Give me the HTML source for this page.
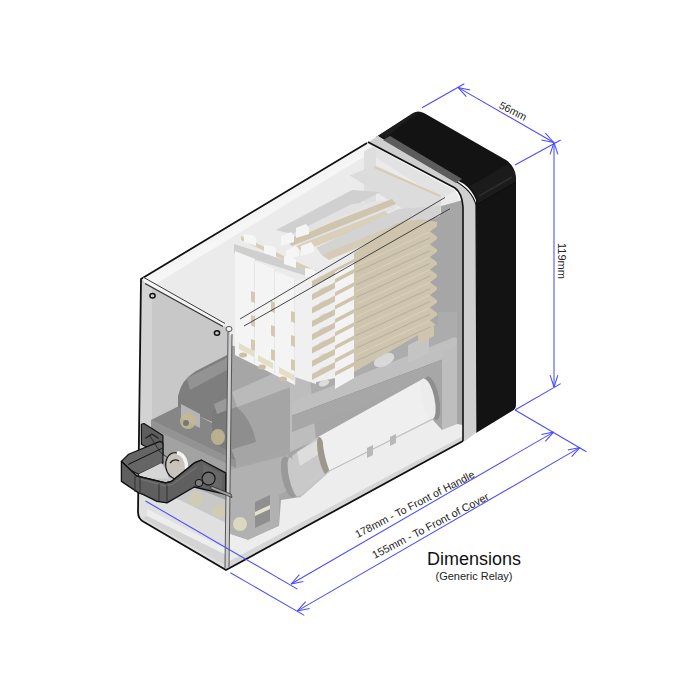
<!DOCTYPE html><html><head><meta charset="utf-8"><style>
html,body{margin:0;padding:0;background:#fff;}
svg{display:block;font-family:"Liberation Sans",sans-serif;}
</style></head><body>
<svg width="700" height="700" viewBox="0 0 700 700">
<rect width="700" height="700" fill="#fff"/>
<path d="M376,137 L413,113 Q418,110 424,113 L506,160 Q515,166 516,178 L516,405 Q516,409 512,411 L476,433 L476,200 Q472,190 464,184 Z" fill="#131313"/>
<polygon points="470,186 508,164 515,172 516,182 478,205 476,196" fill="#1b1b1b" />
<line x1="479" y1="196" x2="512" y2="177" stroke="#2c2c2c" stroke-width="2" />
<line x1="478" y1="204" x2="516" y2="182" stroke="#0c0c0c" stroke-width="1" />
<polygon points="378,136 414,113 420,112 400,126 386,138" fill="#1c1c1c" />
<polygon points="141,279 367,143 455,190 463,205 463,441 226,570 230,329" fill="#ebebeb" />
<polygon points="142,280 367,143 375,150 149,288" fill="#f6f6f6" />
<polygon points="420,212 463,200 463,441 437,441 437,340 420,345" fill="#a6a6a6" />
<polygon points="364,150 372,146 455,191 441,199" fill="#e2e2e2" />
<polygon points="230,345 316,368 354,376 438,336 457,337 457,424 442,432 431,438 330,490 279,526 248,540 230,534" fill="#a6a6a6" />
<polygon points="300,380 354,352 438,312 457,312 457,337 300,405" fill="#acacac" />
<ellipse cx="385" cy="348" rx="8" ry="5" transform="rotate(-25 385 348)" fill="#dedede" />
<path d="M230,404 Q236,390 250,386 L290,368 L296,378 L296,445 L250,462 L230,468 Z" fill="#a5a5a5"/>
<polygon points="232,392 290,366 296,385 237,407" fill="#bababa" />
<path d="M230,409 L237,407 Q252,420 256,442 L230,450 Z" fill="#8e8e8e"/>
<path d="M290,377 Q300,370 310,378 L316,440 L290,452 Z" fill="#bdbdbd"/>
<polygon points="292,402 455,337 457,338 457,350 442,360 292,416" fill="#c0c0c0" />
<line x1="292" y1="416" x2="442" y2="360" stroke="#999" stroke-width="1" />
<polygon points="292,416 442,360 442,374 292,432" fill="#a7a7a7" />
<polygon points="442,352 457,345 457,424 442,432" fill="#bebebe" />
<polygon points="230,470 288,455 288,490 279,495 279,526 248,540 230,534" fill="#b1b1b1" />
<polygon points="255,502 270,495 270,521 255,528" fill="#8f8f8f" />
<polygon points="255,512 270,505 270,509 255,516" fill="#e6e1cf" />
<ellipse cx="240" cy="524" rx="7" ry="7" transform="rotate(0 240 524)" fill="#dcd7c0" />
<ellipse cx="432" cy="398" rx="7" ry="22" transform="rotate(-12 432 398)" fill="#8e8e8e" />
<polygon points="318,437 424,378.3 432,419.4 329.4,470.8" fill="#efefef" />
<ellipse cx="428" cy="399" rx="6.5" ry="20.5" transform="rotate(-12 428 399)" fill="#ececec" />
<ellipse cx="289" cy="477" rx="7" ry="21" transform="rotate(-12 289 477)" fill="#999999" />
<polygon points="292,456 318,437 329,471 300,497" fill="#c9c9c9" />
<ellipse cx="294" cy="477" rx="5" ry="20" transform="rotate(-12 294 477)" fill="#c9c9c9" />
<polygon points="297,452 318,440 322,452 300,466" fill="#dddddd" />
<ellipse cx="323" cy="456" rx="4.5" ry="19.5" transform="rotate(-12 323 456)" fill="#9d978c" />
<ellipse cx="327.5" cy="454" rx="3" ry="18.5" transform="rotate(-12 327.5 454)" fill="#efefef" />
<polygon points="230,534 248,540 279,526 281,500 300,497 329,471 432,419 442,430 457,424 463,425 463,441 226,570 226,540" fill="#ededed" />
<polygon points="226,570 463,441 463,436 226,563" fill="#d6d6d6" />
<polyline points="300,497 329.4,471 432,419.4" fill="none" stroke="#c2c2c2" stroke-width="1.2" stroke-linejoin="round" stroke-linecap="round" />
<polygon points="367,448 373,445 373,455 367,458" fill="#b8b8b8" />
<polygon points="390,437 396,434 396,443 390,446" fill="#b8b8b8" />
<polygon points="364,144 376,148 376,236 364,232" fill="#dedede" />
<polygon points="349.8,175.4 375,165 441,196 441,214 420,219 398,206" fill="#dcdcdc" />
<polyline points="375.5,167.7 440,196" fill="none" stroke="#d8ccb0" stroke-width="2" stroke-linejoin="round" stroke-linecap="round" />
<polygon points="276,230 352,190 380,192 300,236" fill="#d0d0d0" />
<polygon points="284,238 352,204 392,200 398,208 316,246 292,242" fill="#e2e2e2" />
<polygon points="286,240 392,199 396,204 292,246" fill="#cfc5af" />
<polygon points="296,246 385,211 390,216 302,252" fill="#d9cfba" />
<polyline points="300,236 380,200" fill="none" stroke="#ece7dc" stroke-width="1" stroke-linejoin="round" stroke-linecap="round" />
<polygon points="316.4,247.4 398.7,208.8 440,206 440,216 321.6,255" fill="#d3d3d3" />
<polygon points="321.6,255 409,219 419,221.7 329,260" fill="#d6ccb5" />
<polygon points="281,236 291,232 294,236 294,242 281,246" fill="#f5f5f5" />
<polygon points="296,228 306,224 309,228 309,234 296,238" fill="#f5f5f5" />
<polygon points="301,246 311,242 314,246 314,252 301,256" fill="#f5f5f5" />
<polygon points="286,250 296,246 299,250 299,256 286,260" fill="#f5f5f5" />
<polygon points="234,244 316,270 316,279 234,253" fill="#cfcfcf" />
<polygon points="241,236 310,268 310,272 241,240" fill="#d8ceb7" />
<polygon points="244,234 252,235 256,238 256,246 244,242" fill="#f6f6f6" />
<polygon points="264,245 272,246 276,249 276,257 264,253" fill="#f6f6f6" />
<polygon points="284,256 292,257 296,260 296,268 284,264" fill="#f6f6f6" />
<polygon points="305,268 313,269 317,272 317,280 305,276" fill="#f6f6f6" />
<polygon points="235,251 255,259 255,365 235,355" fill="#f4f4f4" />
<line x1="255" y1="260" x2="255" y2="364" stroke="#dadada" stroke-width="1" />
<polygon points="251,291 255,292.5 255,303 251,301.5" fill="#d3c9b2" />
<polygon points="251,315 255,316.5 255,327 251,325.5" fill="#d3c9b2" />
<polygon points="251,339 255,340.5 255,351 251,349.5" fill="#d3c9b2" />
<polygon points="255,261 275,269 275,375 255,365" fill="#f4f4f4" />
<line x1="275" y1="270" x2="275" y2="374" stroke="#dadada" stroke-width="1" />
<polygon points="271,301 275,302.5 275,313 271,311.5" fill="#d3c9b2" />
<polygon points="271,325 275,326.5 275,337 271,335.5" fill="#d3c9b2" />
<polygon points="271,349 275,350.5 275,361 271,359.5" fill="#d3c9b2" />
<polygon points="275,271 295,279 295,385 275,375" fill="#f4f4f4" />
<line x1="295" y1="280" x2="295" y2="384" stroke="#dadada" stroke-width="1" />
<polygon points="291,311 295,312.5 295,323 291,321.5" fill="#d3c9b2" />
<polygon points="291,335 295,336.5 295,347 291,345.5" fill="#d3c9b2" />
<polygon points="291,359 295,360.5 295,371 291,369.5" fill="#d3c9b2" />
<polygon points="295,281 316,276 316,384 295,377" fill="#f0f0f0" />
<polygon points="239,343 254,351 254,357 239,349" fill="#e4dec6" />
<ellipse cx="243" cy="355" rx="4" ry="2.5" transform="rotate(0 243 355)" fill="#cdbfa6" />
<polygon points="258,355 273,363 273,369 258,361" fill="#e4dec6" />
<ellipse cx="262" cy="367" rx="4" ry="2.5" transform="rotate(0 262 367)" fill="#cdbfa6" />
<polygon points="279,367 294,375 294,381 279,373" fill="#e4dec6" />
<ellipse cx="283" cy="379" rx="4" ry="2.5" transform="rotate(0 283 379)" fill="#cdbfa6" />
<polygon points="312,281 354,258 354,374 312,383" fill="#efefef" />
<polygon points="312,281.0 354,259.0 354,265.0 312,287.0" fill="#cfc5af" />
<ellipse cx="324" cy="290.0" rx="5.5" ry="3" transform="rotate(-20 324 290.0)" fill="#dcdcdc" />
<polygon points="312,294.3 354,272.3 354,278.3 312,300.3" fill="#cfc5af" />
<ellipse cx="324" cy="303.3" rx="5.5" ry="3" transform="rotate(-20 324 303.3)" fill="#dcdcdc" />
<polygon points="312,307.6 354,285.6 354,291.6 312,313.6" fill="#cfc5af" />
<ellipse cx="324" cy="316.6" rx="5.5" ry="3" transform="rotate(-20 324 316.6)" fill="#dcdcdc" />
<polygon points="312,320.9 354,298.9 354,304.9 312,326.9" fill="#cfc5af" />
<ellipse cx="324" cy="329.9" rx="5.5" ry="3" transform="rotate(-20 324 329.9)" fill="#dcdcdc" />
<polygon points="312,334.2 354,312.2 354,318.2 312,340.2" fill="#cfc5af" />
<ellipse cx="324" cy="343.2" rx="5.5" ry="3" transform="rotate(-20 324 343.2)" fill="#dcdcdc" />
<polygon points="312,347.5 354,325.5 354,331.5 312,353.5" fill="#cfc5af" />
<ellipse cx="324" cy="356.5" rx="5.5" ry="3" transform="rotate(-20 324 356.5)" fill="#dcdcdc" />
<polygon points="312,360.8 354,338.8 354,344.8 312,366.8" fill="#cfc5af" />
<ellipse cx="324" cy="369.8" rx="5.5" ry="3" transform="rotate(-20 324 369.8)" fill="#dcdcdc" />
<polygon points="312,374.1 354,352.1 354,358.1 312,380.1" fill="#cfc5af" />
<ellipse cx="324" cy="383.1" rx="5.5" ry="3" transform="rotate(-20 324 383.1)" fill="#dcdcdc" />
<ellipse cx="384" cy="360" rx="11" ry="6" transform="rotate(-25 384 360)" fill="#d8d8d8" />
<polygon points="408,345 429,335 429,353 408,363" fill="#c4c4c4" />
<polygon points="354,253 395,224 421,219 437,222 437,324 354,372" fill="#cfc5af" />
<polygon points="418,334 434,326 434,336 418,344" fill="#cfc5af" />
<polygon points="430,231.5 438,225.5 438,237.5" fill="#a6a6a6" />
<polygon points="430,244.2 438,238.2 438,250.2" fill="#a6a6a6" />
<polygon points="430,256.9 438,250.9 438,262.9" fill="#a6a6a6" />
<polygon points="430,269.6 438,263.6 438,275.6" fill="#a6a6a6" />
<polygon points="430,282.3 438,276.3 438,288.3" fill="#a6a6a6" />
<polygon points="430,295.0 438,289.0 438,301.0" fill="#a6a6a6" />
<polygon points="430,307.7 438,301.7 438,313.7" fill="#a6a6a6" />
<polygon points="430,320.4 438,314.4 438,326.4" fill="#a6a6a6" />
<line x1="356" y1="266.0" x2="429" y2="232.0" stroke="#dad2bf" stroke-width="0.9" />
<line x1="356" y1="272.0" x2="430" y2="238.0" stroke="#b8b1a2" stroke-width="1.1" />
<line x1="356" y1="278.7" x2="429" y2="244.7" stroke="#dad2bf" stroke-width="0.9" />
<line x1="356" y1="284.7" x2="430" y2="250.7" stroke="#b8b1a2" stroke-width="1.1" />
<line x1="356" y1="291.4" x2="429" y2="257.4" stroke="#dad2bf" stroke-width="0.9" />
<line x1="356" y1="297.4" x2="430" y2="263.4" stroke="#b8b1a2" stroke-width="1.1" />
<line x1="356" y1="304.1" x2="429" y2="270.1" stroke="#dad2bf" stroke-width="0.9" />
<line x1="356" y1="310.1" x2="430" y2="276.1" stroke="#b8b1a2" stroke-width="1.1" />
<line x1="356" y1="316.8" x2="429" y2="282.8" stroke="#dad2bf" stroke-width="0.9" />
<line x1="356" y1="322.8" x2="430" y2="288.8" stroke="#b8b1a2" stroke-width="1.1" />
<line x1="356" y1="329.5" x2="429" y2="295.5" stroke="#dad2bf" stroke-width="0.9" />
<line x1="356" y1="335.5" x2="430" y2="301.5" stroke="#b8b1a2" stroke-width="1.1" />
<line x1="356" y1="342.2" x2="429" y2="308.2" stroke="#dad2bf" stroke-width="0.9" />
<line x1="356" y1="348.2" x2="430" y2="314.2" stroke="#b8b1a2" stroke-width="1.1" />
<line x1="356" y1="354.9" x2="429" y2="320.9" stroke="#dad2bf" stroke-width="0.9" />
<line x1="356" y1="360.9" x2="430" y2="326.9" stroke="#b8b1a2" stroke-width="1.1" />
<polygon points="335,272 354,262 354,378 335,389" fill="#f3f3f3" />
<polygon points="335,279.0 354,269.0 354,273.0 335,283.0" fill="#cfc5af" />
<polygon points="335,292.3 354,282.3 354,286.3 335,296.3" fill="#cfc5af" />
<polygon points="335,305.6 354,295.6 354,299.6 335,309.6" fill="#cfc5af" />
<polygon points="335,318.9 354,308.9 354,312.9 335,322.9" fill="#cfc5af" />
<polygon points="335,332.2 354,322.2 354,326.2 335,336.2" fill="#cfc5af" />
<polygon points="335,345.5 354,335.5 354,339.5 335,349.5" fill="#cfc5af" />
<polygon points="335,358.8 354,348.8 354,352.8 335,362.8" fill="#cfc5af" />
<polygon points="335,372.1 354,362.1 354,366.1 335,376.1" fill="#cfc5af" />
<polygon points="141,279 230,329 226,570 138,518" fill="#c8c8c8" />
<polygon points="141,281 152,287 152,515 139,509" fill="#d3d3d3" />
<path d="M212,425 Q215,400 230,392 L230,450 Z" fill="#9a9a9a"/>
<polygon points="151,420 179,406 230,432 230,446 236,461 151,428" fill="#868686" />
<path d="M178,407 L178,396 Q181,380 196,371 L227,355 L227,428 L210,421 Z" fill="#7e7e7e"/>
<polygon points="187,378 227,358 227,370 190,390" fill="#939393" />
<path d="M212,414 Q216,402 226,403 L227,450 L212,442 Z" fill="#7a7a7a"/>
<polygon points="214,404 227,398 227,410 217,414" fill="#9a9a9a" />
<polygon points="151,420 236,461 230,463 226,500 151,470" fill="#a2a2a2" />
<polygon points="151,420 236,461 236,468 151,428" fill="#939393" />
<polygon points="181,404 200,414 200,428 181,418" fill="#b5b5b5" />
<ellipse cx="188" cy="421" rx="8" ry="8" transform="rotate(0 188 421)" fill="#c5b993" fill-opacity="0.85"/>
<ellipse cx="218" cy="437" rx="7" ry="8" transform="rotate(0 218 437)" fill="#c5b993" fill-opacity="0.85"/>
<ellipse cx="186" cy="423" rx="3" ry="3" transform="rotate(0 186 423)" fill="#777" />
<polygon points="138,486 180,500 226,523 226,570 142,521 138,515" fill="#e0e0e0" />
<polygon points="147,509 226,549 226,555 147,516" fill="#ededed" />
<polygon points="142,518 147,516 226,555 226,566" fill="#d4d4d4" />
<ellipse cx="196" cy="499" rx="7" ry="7" transform="rotate(0 196 499)" fill="#d0cbb4" />
<ellipse cx="219" cy="511" rx="7" ry="7" transform="rotate(0 219 511)" fill="#d0cbb4" />
<polygon points="141,279 367,143 378,136 383,140 146,282" fill="#f4f4f4" />
<path d="M367,143 L141,279 L138,512 Q138,519 144,522 L226,570 L463,441" fill="none" stroke="#111" stroke-width="1.8" stroke-linejoin="round"/>
<polygon points="143,277 225,323 224,327 144,282" fill="#f4f4f4" />
<line x1="143" y1="277" x2="225" y2="323.5" stroke="#3a3a3a" stroke-width="1.0" />
<line x1="145" y1="283.5" x2="223" y2="326.5" stroke="#333" stroke-width="1.2" />
<polygon points="228,334 232,336 229,568 225,568" fill="#cdcdcd" />
<line x1="228" y1="332" x2="225" y2="568" stroke="#555" stroke-width="1" />
<line x1="232" y1="334" x2="229" y2="568" stroke="#555" stroke-width="1" />
<line x1="240" y1="319" x2="445" y2="197.5" stroke="#333" stroke-width="0.9" />
<line x1="244" y1="326" x2="450" y2="208.7" stroke="#333" stroke-width="0.9" />
<ellipse cx="152.5" cy="295.7" rx="2.6" ry="2.3" fill="none" stroke="#111" stroke-width="1.5"/>
<ellipse cx="217" cy="333" rx="2.6" ry="2.3" fill="none" stroke="#111" stroke-width="1.5"/>
<ellipse cx="229" cy="329" rx="3" ry="2.6" fill="#f4f4f4" stroke="#555" stroke-width="1"/>
<path d="M367,143 L378,136 L455,181 Q472,190 476,205 L477,432 L465,441 L463,441 L463,207 Q462,193 455,188 Z" fill="#cfcfcf"/>
<path d="M463,441 L463,207 Q462,193 455,188 L368,142" fill="none" stroke="#111" stroke-width="1.6"/>
<path d="M380,136 L455,181 Q472,190 476,205 L477,432" fill="none" stroke="#111" stroke-width="1.2"/>
<polygon points="383,140 390,136 462,179 456,183" fill="#5c5c5c" />
<polygon points="141.4,424.3 144,423.5 162.9,435.5 162.9,455.7 141.4,444.3" fill="#5d5d5d" stroke="#111" stroke-width="1.2" stroke-linejoin="round" />
<polyline points="146,438 152,434 158,438" fill="none" stroke="#222" stroke-width="1.5" stroke-linejoin="round" stroke-linecap="round" />
<polygon points="121.4,461.4 128.6,454.3 160,441.4 162.9,443 162.9,462.9 138.6,474.3 130,470" fill="#656565" stroke="#111" stroke-width="1.2" stroke-linejoin="round" />
<polyline points="128.6,464.3 161.4,448.6" fill="none" stroke="#111" stroke-width="1.0" stroke-linejoin="round" stroke-linecap="round" />
<polygon points="138.6,474.3 161.4,462.9 167,471 168.6,478.6 143,478.6" fill="#d6d6d6" />
<polyline points="150,436 160,452 168,458" fill="none" stroke="#222" stroke-width="0.8" stroke-linejoin="round" stroke-linecap="round" />
<ellipse cx="175.7" cy="465.7" rx="10" ry="13" transform="rotate(-8 175.7 465.7)" fill="#c8c4bb" stroke="#111" stroke-width="1.1"/>
<path d="M177,452.5 Q189,456 186,476" fill="none" stroke="#f4f4f4" stroke-width="3.5"/>
<path d="M170,463 Q174,458 179,461" fill="none" stroke="#222" stroke-width="1.3"/>
<polygon points="121.4,461.4 137,476 165.7,482.9 171.4,481.4 194.3,462.9 201.4,460 225.7,472.9 225.7,494.3 194.3,487 167,502.9 157,501.4 142.9,494.3 138.6,492.9 121.4,481.4" fill="#5f5f5f" stroke="#111" stroke-width="1.3" stroke-linejoin="round" />
<polyline points="121.4,461.4 137,476 165.7,482.9 171.4,481.4 194.3,462.9 201.4,460" fill="none" stroke="#111" stroke-width="1.2" stroke-linejoin="round" stroke-linecap="round" />
<polyline points="140,479 165,486 172,484.5 197,467" fill="none" stroke="#7c7c7c" stroke-width="0.9" stroke-linejoin="round" stroke-linecap="round" />
<line x1="135" y1="476" x2="135" y2="492" stroke="#333" stroke-width="1" />
<line x1="140" y1="478" x2="140" y2="494" stroke="#333" stroke-width="1" />
<line x1="159" y1="484" x2="159" y2="501" stroke="#333" stroke-width="1" />
<line x1="167" y1="485" x2="167" y2="502" stroke="#333" stroke-width="1" />
<polygon points="203,464 222,474 222,491 203,482" fill="#686868" />
<ellipse cx="208.6" cy="478.6" rx="6.5" ry="6.5" transform="rotate(0 208.6 478.6)" fill="#6e6e6e" stroke="#111" stroke-width="1.1"/>
<ellipse cx="199" cy="483" rx="3.8" ry="3.6" transform="rotate(0 199 483)" fill="#7c7c7c" stroke="#111" stroke-width="1"/>
<polygon points="211,486 231,494 232,497.5 211,489" fill="#a0a0a0" stroke="#222" stroke-width="0.7" stroke-linejoin="round" />
<line x1="422" y1="107.7" x2="464.3" y2="83.7" stroke="#4a4aff" stroke-width="1.05" />
<line x1="515" y1="165" x2="560.7" y2="140" stroke="#4a4aff" stroke-width="1.05" />
<line x1="458" y1="87.4" x2="553.75" y2="142.5" stroke="#4a4aff" stroke-width="1.05" />
<line x1="458" y1="87.4" x2="466.3" y2="96.7" stroke="#4a4aff" stroke-width="1.05" />
<line x1="458" y1="87.4" x2="470.2" y2="89.9" stroke="#4a4aff" stroke-width="1.05" />
<line x1="553.75" y1="142.5" x2="545.4" y2="133.2" stroke="#4a4aff" stroke-width="1.05" />
<line x1="553.75" y1="142.5" x2="541.5" y2="140.0" stroke="#4a4aff" stroke-width="1.05" />
<line x1="554" y1="142.5" x2="554" y2="387" stroke="#4a4aff" stroke-width="1.05" />
<line x1="554" y1="142.5" x2="550.1" y2="154.4" stroke="#4a4aff" stroke-width="1.05" />
<line x1="554" y1="142.5" x2="557.9" y2="154.4" stroke="#4a4aff" stroke-width="1.05" />
<line x1="554" y1="387" x2="557.9" y2="375.1" stroke="#4a4aff" stroke-width="1.05" />
<line x1="554" y1="387" x2="550.1" y2="375.1" stroke="#4a4aff" stroke-width="1.05" />
<line x1="515" y1="410" x2="560.7" y2="383.6" stroke="#4a4aff" stroke-width="1.05" />
<line x1="515" y1="410" x2="586.4" y2="451.7" stroke="#4a4aff" stroke-width="1.05" />
<line x1="145.5" y1="501" x2="297.4" y2="589.1" stroke="#4a4aff" stroke-width="1.05" />
<line x1="291.1" y1="584" x2="553.6" y2="432.1" stroke="#4a4aff" stroke-width="1.05" />
<line x1="291.1" y1="584" x2="303.3" y2="581.5" stroke="#4a4aff" stroke-width="1.05" />
<line x1="291.1" y1="584" x2="299.4" y2="574.7" stroke="#4a4aff" stroke-width="1.05" />
<line x1="553.6" y1="432.1" x2="541.4" y2="434.6" stroke="#4a4aff" stroke-width="1.05" />
<line x1="553.6" y1="432.1" x2="545.3" y2="441.4" stroke="#4a4aff" stroke-width="1.05" />
<line x1="230.4" y1="572.7" x2="304.3" y2="615.4" stroke="#4a4aff" stroke-width="1.05" />
<line x1="297.4" y1="610.9" x2="580" y2="447.4" stroke="#4a4aff" stroke-width="1.05" />
<line x1="297.4" y1="610.9" x2="309.6" y2="608.4" stroke="#4a4aff" stroke-width="1.05" />
<line x1="297.4" y1="610.9" x2="305.7" y2="601.6" stroke="#4a4aff" stroke-width="1.05" />
<line x1="580" y1="447.4" x2="567.8" y2="449.9" stroke="#4a4aff" stroke-width="1.05" />
<line x1="580" y1="447.4" x2="571.7" y2="456.7" stroke="#4a4aff" stroke-width="1.05" />
<text x="0" y="0" transform="translate(511.3,114.3) rotate(26.5)" font-size="10.6" text-anchor="middle" fill="#222">56mm</text>
<text x="0" y="0" transform="translate(558.2,261) rotate(90)" font-size="11" text-anchor="middle" fill="#222">119mm</text>
<text x="0" y="0" transform="translate(416.5,507.5) rotate(-27.5)" font-size="10.7" text-anchor="middle" fill="#222">178mm - To Front of Handle</text>
<text x="0" y="0" transform="translate(432.2,529.1) rotate(-27.5)" font-size="10.9" text-anchor="middle" fill="#222">155mm - To Front of Cover</text>
<text x="474" y="565" font-size="18" text-anchor="middle" fill="#111">Dimensions</text>
<text x="474" y="580" font-size="11" text-anchor="middle" fill="#222">(Generic Relay)</text>
</svg></body></html>
